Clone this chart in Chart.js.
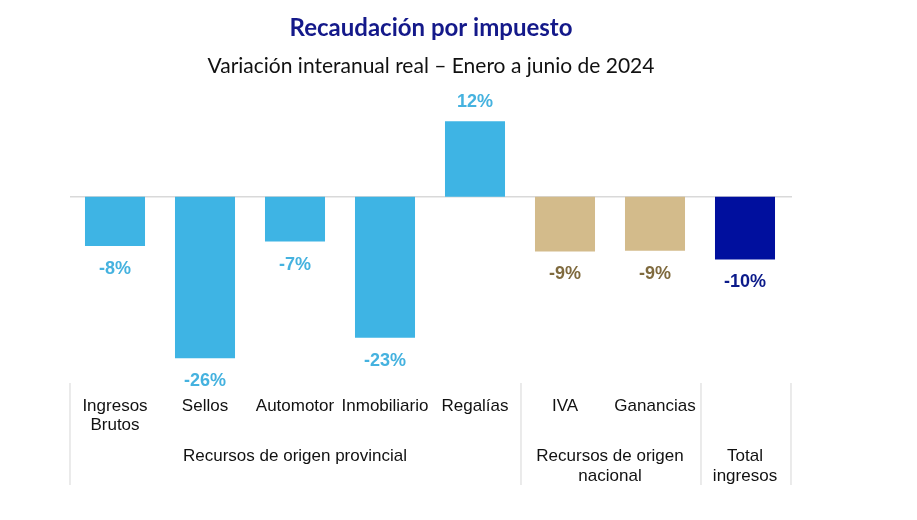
<!DOCTYPE html>
<html>
<head>
<meta charset="utf-8">
<script src="https://cdn.jsdelivr.net/npm/chart.js@4.4.1/dist/chart.umd.min.js"></script>
<style>
  html, body { margin: 0; padding: 0; background: #ffffff; }
  #wrap { width: 917px; height: 520px; position: relative; }
</style>
</head>
<body>
<div id="wrap"><canvas id="c" width="917" height="520"></canvas></div>
<script>
// ---- Data ----
const categories = [["Ingresos", "Brutos"], ["Sellos"], ["Automotor"], ["Inmobiliario"], ["Regalías"], ["IVA"], ["Ganancias"], [""]];
const values = [-7.9, -26.0, -7.2, -22.7, 12.2, -8.8, -8.7, -10.1];
const valueLabels = ["-8%", "-26%", "-7%", "-23%", "12%", "-9%", "-9%", "-10%"];
const groups = [
  { label: ["Recursos de origen provincial"], from: 0, to: 4 },
  { label: ["Recursos de origen", "nacional"], from: 5, to: 6 },
  { label: ["Total", "ingresos"], from: 7, to: 7 }
];
const titleText = "Recaudación por impuesto";
const subtitleText = "Variación interanual real – Enero a junio de 2024";

const barColors = ["#3EB4E4", "#3EB4E4", "#3EB4E4", "#3EB4E4", "#3EB4E4", "#D3BB8B", "#D3BB8B", "#000F9E"];
const labelColors = ["#45B2DF", "#45B2DF", "#45B2DF", "#45B2DF", "#45B2DF", "#7F6A3E", "#7F6A3E", "#0B1A8A"];

const decorPlugin = {
  id: 'decor',
  beforeDatasetsDraw(chart) {
    const ctx = chart.ctx;
    const x = chart.scales.x, y = chart.scales.y;
    const half = (x.getPixelForValue(1) - x.getPixelForValue(0)) / 2;
    const y0 = y.getPixelForValue(0);
    ctx.save();
    ctx.strokeStyle = "#D9D9D9";
    ctx.lineWidth = 1.5;
    ctx.beginPath();
    ctx.moveTo(x.getPixelForValue(0) - half, y0);
    ctx.lineTo(x.getPixelForValue(categories.length - 1) + half + 2, y0);
    ctx.stroke();
    ctx.restore();
  },
  afterDatasetsDraw(chart) {
    const ctx = chart.ctx;
    const x = chart.scales.x, y = chart.scales.y;
    const meta = chart.getDatasetMeta(0);
    ctx.save();
    ctx.textAlign = "center";
    ctx.textBaseline = "middle";
    // value labels
    ctx.font = "bold 18px 'Liberation Sans', Arial, sans-serif";
    meta.data.forEach((bar, i) => {
      ctx.fillStyle = labelColors[i];
      const v = values[i];
      const ly = v >= 0 ? bar.y - 19 : bar.y + 23;
      ctx.fillText(valueLabels[i], bar.x, ly);
    });
    // titles
    const cx = (chart.chartArea.left + chart.chartArea.right) / 2;
    ctx.fillStyle = "#14198A";
    ctx.font = "bold 24px Lato, 'Open Sans', sans-serif";
    ctx.fillText(titleText, cx + 1, 28);
    ctx.fillStyle = "#111111";
    ctx.font = "21px Lato, 'Open Sans', sans-serif";
    ctx.fillText(subtitleText, cx + 1, 66);
    // category labels
    const half = (x.getPixelForValue(1) - x.getPixelForValue(0)) / 2;
    const bottom = chart.chartArea.bottom;
    ctx.fillStyle = "#111111";
    ctx.font = "17px 'Liberation Sans', Arial, sans-serif";
    categories.forEach((lines, i) => {
      const px = x.getPixelForValue(i);
      lines.forEach((t, k) => ctx.fillText(t, px, bottom + 23 + k * 19));
    });
    // group labels
    groups.forEach(g => {
      const px = (x.getPixelForValue(g.from) + x.getPixelForValue(g.to)) / 2;
      g.label.forEach((t, k) => ctx.fillText(t, px, bottom + 73 + k * 20));
    });
    // separators
    ctx.strokeStyle = "#DDDDDD";
    ctx.lineWidth = 1.2;
    const seps = [x.getPixelForValue(0) - half];
    groups.forEach(g => seps.push(x.getPixelForValue(g.to) + half + 1));
    seps.forEach(sx => {
      ctx.beginPath();
      ctx.moveTo(sx, bottom);
      ctx.lineTo(sx, bottom + 102);
      ctx.stroke();
    });
    ctx.restore();
  }
};

new Chart(document.getElementById('c'), {
  type: 'bar',
  data: {
    labels: categories,
    datasets: [{
      data: values,
      backgroundColor: barColors,
      borderWidth: 0,
      categoryPercentage: 1.0,
      barPercentage: 0.667
    }]
  },
  options: {
    responsive: false,
    animation: false,
    layout: { padding: { left: 70, right: 127, top: 110, bottom: 137 } },
    plugins: { legend: { display: false }, tooltip: { enabled: false }, title: { display: false } },
    scales: {
      x: { display: false },
      y: { display: false, min: -30, max: 14 }
    }
  },
  plugins: [decorPlugin]
});
</script>
</body>
</html>
